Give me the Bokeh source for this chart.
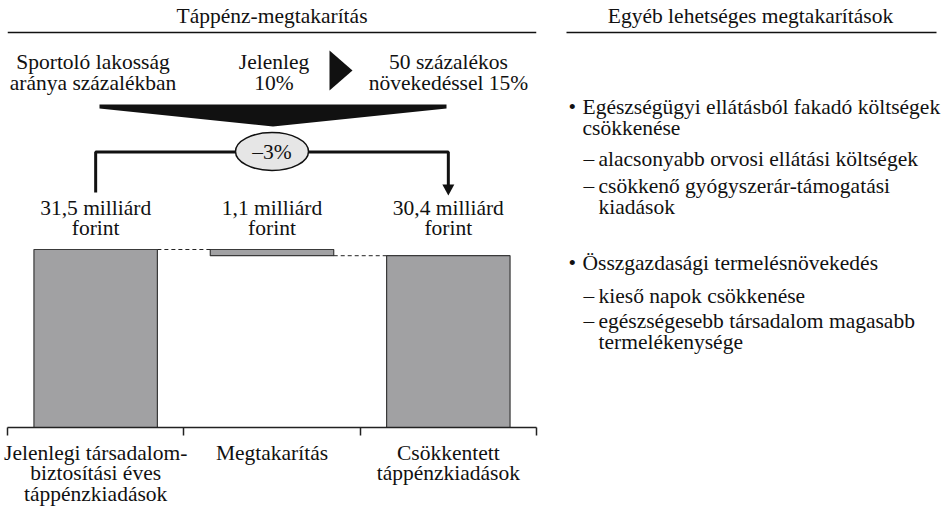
from bokeh.plotting import figure
from bokeh.models import Range1d, LinearAxis, FixedTicker
from bokeh.layouts import row
from bokeh.embed import file_html
from bokeh.resources import INLINE
from bokeh.core.properties import value

FONT = "Liberation Serif"
FS = "21.5px"

# ---------------- data ----------------
categories = ["Jelenlegi társadalom-\nbiztosítási éves\ntáppénzkiadások",
              "Megtakarítás",
              "Csökkentett\ntáppénzkiadások"]
values = [31.5, 1.1, 30.4]          # milliárd forint
change_label = "–3%"
left_title = "Táppénz-megtakarítás"
right_title = "Egyéb lehetséges megtakarítások"
scenario_labels = ["Sportoló lakosság\naránya százalékban",
                   "Jelenleg\n10%",
                   "50 százalékos\nnövekedéssel 15%"]
bullet_items = [
    ("•", "Egészségügyi ellátásból fakadó költségek\ncsökkenése"),
    ("–", "alacsonyabb orvosi ellátási költségek"),
    ("–", "csökkenő gyógyszerár-támogatási\nkiadások"),
    ("•", "Összgazdasági termelésnövekedés"),
    ("–", "kieső napok csökkenése"),
    ("–", "egészségesebb társadalom magasabb\ntermelékenysége"),
]

# ---------------- left figure (waterfall) ----------------
FX0, FY0 = 7, 8           # frame offset on page
FW, FH = 529, 419
GAP = 19
BAND = FW / 3.0
PX_PER_Y = 178.0 / values[0]
YMAX = FH / PX_PER_Y

def ux(px):   # page x -> data x
    return (px - FX0) / BAND

def vy(py):   # page y -> data y
    return (FY0 + FH - py) / PX_PER_Y

p = figure(frame_width=FW, frame_height=FH, x_range=Range1d(0, 3), y_range=Range1d(0, YMAX),
           x_axis_location=None, y_axis_location=None, toolbar_location=None,
           output_backend="svg", min_border_left=FX0, min_border_right=GAP,
           min_border_top=FY0, min_border_bottom=77, outline_line_color=None)
p.grid.visible = False

n = len(values)
centers = [i + 0.5 for i in range(n)]
bw = 0.7
bottoms = [0, values[0] - values[1], 0]
tops = [values[0], values[0], values[0] - values[1]]
p.quad(left=[c - bw / 2 for c in centers], right=[c + bw / 2 for c in centers],
       bottom=bottoms, top=tops, fill_color="#a1a1a3", line_color="#3a3a3a", line_width=1.2)

# dashed connectors
p.segment(x0=[centers[0] + bw / 2, centers[1] + bw / 2], x1=[centers[1] - bw / 2, centers[2] - bw / 2],
          y0=[tops[0], bottoms[1]], y1=[tops[0], bottoms[1]],
          line_color="#222222", line_width=1, line_dash="4 3")

def text_lines(fig, x, y_first_px, s, conv_y, step=21, **kw):
    lines = s.split("\n")
    fig.text(x=[x] * len(lines), y=[conv_y(y_first_px + k * step) for k in range(len(lines))],
             text=lines, text_font=value(FONT), text_font_size=FS,
             text_color="#111111", text_baseline="middle", **kw)

# value labels
for c, v in zip(centers, values):
    lab = f"{v:.1f}".replace(".", ",") + " milliárd\nforint"
    text_lines(p, c, 207, lab, vy, step=20, text_align="center")

# title + rule
text_lines(p, 1.5, 15, left_title, vy, text_align="center")
p.line(x=[0, 3], y=[vy(32), vy(32)], line_color="#111111", line_width=1.5)

# scenario texts
for x_px, s in zip([92.5, 273.5, 448], scenario_labels):
    text_lines(p, ux(x_px), 61, s, vy, step=21, text_align="center")

# right-pointing triangle
p.patch(x=[ux(329), ux(329), ux(352)], y=[vy(50), vy(90), vy(70)], fill_color="#111111", line_color=None)

# big down arrow
p.patch(x=[ux(99), ux(446), ux(446), ux(272.5), ux(99)],
        y=[vy(104), vy(104), vy(108), vy(126), vy(108)], fill_color="#111111", line_color=None)

# bracket
p.line(x=[centers[0], centers[0], centers[2], centers[2]],
       y=[vy(192), vy(151.5), vy(151.5), vy(185)], line_color="#111111", line_width=3)
p.patch(x=[centers[2] - 6 / BAND, centers[2] + 6 / BAND, centers[2]],
        y=[vy(184), vy(184), vy(195)], fill_color="#111111", line_color=None)

# ellipse with change
p.ellipse(x=[centers[1]], y=[vy(151)], width=73, height=38, width_units="screen", height_units="screen",
          fill_color="#e6e6e6", line_color="#111111", line_width=1.5)
text_lines(p, centers[1], 151, change_label, vy, text_align="center")

# category axis
ax = LinearAxis(ticker=FixedTicker(ticks=centers, minor_ticks=[0, 1, 2, 3]),
                major_label_overrides={c: lab for c, lab in zip(centers, categories)},
                major_tick_out=0, major_tick_in=0, minor_tick_out=8, minor_tick_in=0,
                axis_line_color="#222222", axis_line_width=1.5,
                minor_tick_line_color="#222222", minor_tick_line_width=1.5,
                major_label_text_font=FONT, major_label_text_font_size=FS,
                major_label_text_color="#111111", major_label_standoff=5,
                major_label_text_line_height=0.87)
p.add_layout(ax, "below")

# ---------------- right figure (text panel) ----------------
RX0 = FX0 + FW + GAP
RW = 950 - RX0
q = figure(frame_width=RW, frame_height=FH, x_range=Range1d(RX0, RX0 + RW),
           y_range=Range1d(FY0 + FH, FY0),
           x_axis_location=None, y_axis_location=None, toolbar_location=None,
           output_backend="svg", min_border_left=0, min_border_right=0,
           min_border_top=FY0, min_border_bottom=77, outline_line_color=None)
q.grid.visible = False

ident = lambda y: y
text_lines(q, 750, 15, right_title, ident, text_align="center")
q.line(x=[566, 936], y=[32, 32], line_color="#111111", line_width=1.5)

item_y = [106, 158, 185, 262, 295, 320]
for (mark, s), y0 in zip(bullet_items, item_y):
    if mark == "•":
        mx, tx = 568, 582
    else:
        mx, tx = 583, 598
    text_lines(q, mx, y0, mark, ident, step=21, text_align="left")
    text_lines(q, tx, y0, s, ident, step=21, text_align="left")

layout = row(p, q)
open("out.html", "w").write(file_html(layout, INLINE))
